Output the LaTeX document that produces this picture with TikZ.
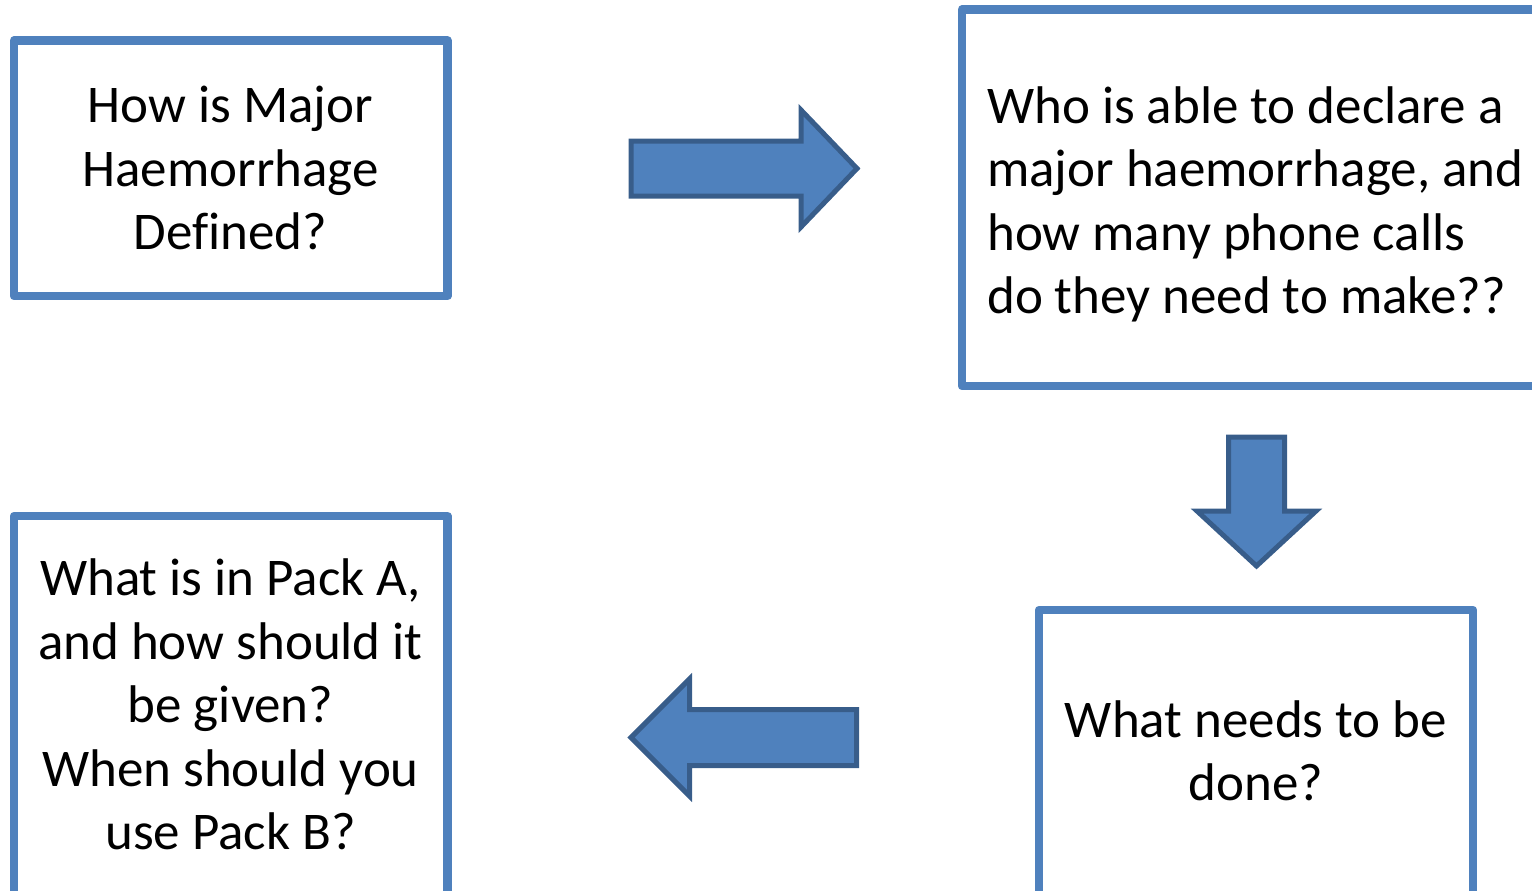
\documentclass[tikz,border=0pt]{standalone}
\usepackage{fontspec}
\setmainfont{Carlito}[Ligatures={NoCommon}]
\definecolor{boxblue}{HTML}{4F81BD}
\definecolor{arrowedge}{HTML}{385D8A}
\begin{document}
\begin{tikzpicture}[x=1pt,y=-1pt,
  qbox/.style={draw=boxblue, line width=8.5pt, line join=round, rectangle, inner sep=0pt},
  qtext/.style={font=\fontsize{53}{63.5}\selectfont, inner sep=0pt, text=black},
  blockarrow/.style={fill=boxblue, draw=arrowedge, line width=5pt, line join=miter}]
\useasboundingbox (0,0) rectangle (1532,891);
\clip (0,0) rectangle (1532,891);
% boxes
\node[qbox, minimum width=433.5pt, minimum height=255.5pt] (b1) at (230.75,168.25) {};
\node[qbox, minimum width=583pt, minimum height=376.5pt] (b2) at (1253.5,197.75) {};
\node[qbox, minimum width=434pt, minimum height=290pt] (b3) at (1256,755) {};
\node[qbox, minimum width=433.5pt, minimum height=384pt] (b4) at (230.75,708) {};
% texts
\node[qtext, align=center] (t1) at (230.5,168) {How is Major\\Haemorrhage\\Defined?};
\node[qtext, align=left, anchor=west] (t2) at (987,204.5) {Who is able to declare a\\major haemorrhage, and\\how many phone calls\\do they need to make??};
\node[qtext, align=center] (t3) at (1256,751) {What needs to be\\done?};
\node[qtext, align=center] (t4) at (230.5,704.5) {What is in Pack A,\\and how should it\\be given?\\When should you\\use Pack B?};
% block arrows
\draw[blockarrow] (631,141) -- (801,141) -- (801,110) -- (857,168.5) -- (801,227) -- (801,196) -- (631,196) -- cycle;
\draw[blockarrow] (1228.5,437) -- (1284.5,437) -- (1284.5,511) -- (1316,511) -- (1256.5,566) -- (1197,511) -- (1228.5,511) -- cycle;
\draw[blockarrow] (856.5,709.5) -- (689.5,709.5) -- (689.5,679) -- (631,737.5) -- (689.5,796) -- (689.5,765.5) -- (856.5,765.5) -- cycle;
\end{tikzpicture}
\end{document}
